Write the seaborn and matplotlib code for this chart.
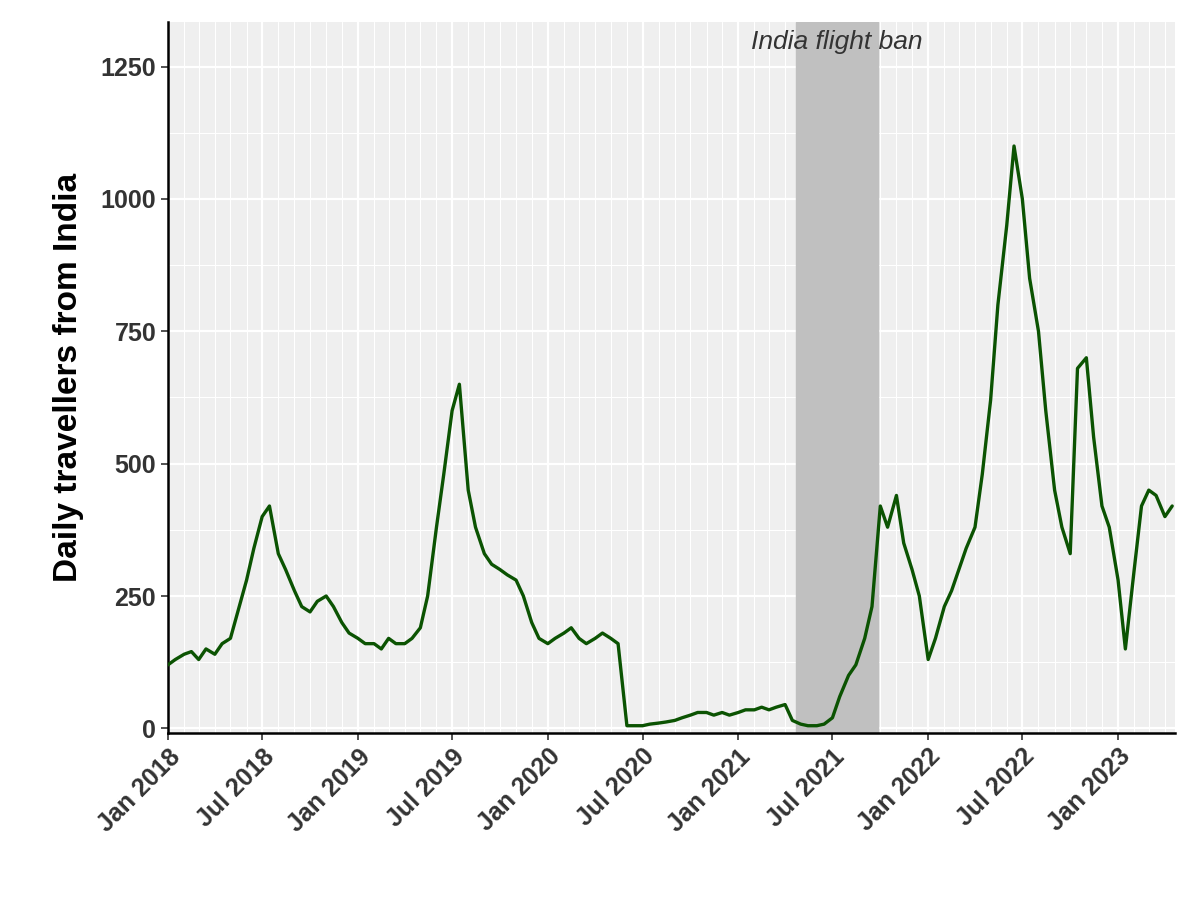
import pandas as pd
import numpy as np
import matplotlib
matplotlib.use("Agg")
import matplotlib.pyplot as plt
import matplotlib.dates as mdates
from matplotlib.ticker import MultipleLocator
import seaborn as sns

# half-monthly readings (1st and 15th of each month), Jan 2018 - Apr 2023
travellers_2018 = [120, 130, 140, 145, 130, 150, 140, 160, 170, 220, 280, 340,
                   400, 420, 330, 300, 260, 230, 220, 240, 250, 230, 200, 180]
travellers_2019 = [170, 160, 160, 150, 170, 160, 160, 170, 190, 250, 380, 480,
                   600, 650, 450, 380, 330, 310, 300, 290, 280, 250, 200, 170]
travellers_2020 = [160, 170, 180, 190, 170, 160, 170, 180, 170, 160, 5, 5,
                   5, 8, 10, 12, 15, 20, 25, 30, 30, 25, 30, 25]
travellers_2021 = [30, 35, 35, 40, 35, 40, 45, 15, 8, 5, 5, 8,
                   20, 60, 100, 120, 170, 230, 420, 380, 440, 350, 300, 250]
travellers_2022 = [130, 170, 230, 260, 300, 340, 380, 480, 620, 800, 950, 1100,
                   1000, 850, 750, 600, 450, 380, 330, 680, 700, 550, 420, 380]
travellers_2023 = [280, 150, 300, 420, 450, 440, 400, 420]

ban_start = "2021-04-22"
ban_end = "2021-09-27"
ban_label = "India flight ban"

values = (travellers_2018 + travellers_2019 + travellers_2020 +
          travellers_2021 + travellers_2022 + travellers_2023)
dates = pd.date_range("2018-01-01", periods=len(values), freq="SMS")
df = pd.DataFrame({"date": dates, "travellers": values})

sns.set_theme(style="white")
plt.rcParams["font.family"] = ["Liberation Sans", "DejaVu Sans"]

fig, ax = plt.subplots(figsize=(12, 9), dpi=100)
ax.set_facecolor("#EFEFEF")

ax.axvspan(pd.Timestamp(ban_start), pd.Timestamp(ban_end), color="#C0C0C0", zorder=1)
sns.lineplot(data=df, x="date", y="travellers", color="#0B5302", linewidth=2.4, ax=ax, zorder=3)
ax.text(pd.Timestamp("2021-07-10"), 1320, ban_label, ha="center", va="top",
        fontsize=19, style="italic", color="#333333", zorder=4)

ax.set_xlim(pd.Timestamp("2018-01-01"), pd.Timestamp("2023-04-20"))
ax.set_ylim(-8, 1335)
ax.yaxis.set_major_locator(MultipleLocator(250))
ax.yaxis.set_minor_locator(MultipleLocator(125))
ax.xaxis.set_major_locator(mdates.MonthLocator(bymonth=[1, 7]))
ax.xaxis.set_minor_locator(mdates.MonthLocator())
ax.xaxis.set_major_formatter(mdates.DateFormatter("%b %Y"))
ax.grid(which="major", color="white", linewidth=1.6, zorder=0)
ax.grid(which="minor", color="white", linewidth=0.8, zorder=0)
ax.set_axisbelow(True)

for s in ["top", "right"]:
    ax.spines[s].set_visible(False)
for s in ["left", "bottom"]:
    ax.spines[s].set_color("black")
    ax.spines[s].set_linewidth(1.8)

ax.tick_params(axis="both", which="major", length=5, width=1.2, color="#333333",
               labelsize=18, labelcolor="#333333", bottom=True, left=True)
ax.tick_params(axis="both", which="minor", length=0)
plt.setp(ax.get_xticklabels(), rotation=45, ha="right", rotation_mode="anchor", fontweight="bold")
plt.setp(ax.get_yticklabels(), fontweight="bold")
ax.set_xlabel("")
ax.set_ylabel("Daily travellers from India", fontsize=24, fontweight="bold", color="black", labelpad=12)

fig.subplots_adjust(left=0.14, right=0.979, top=0.976, bottom=0.186)
fig.savefig("out.png", dpi=100)
